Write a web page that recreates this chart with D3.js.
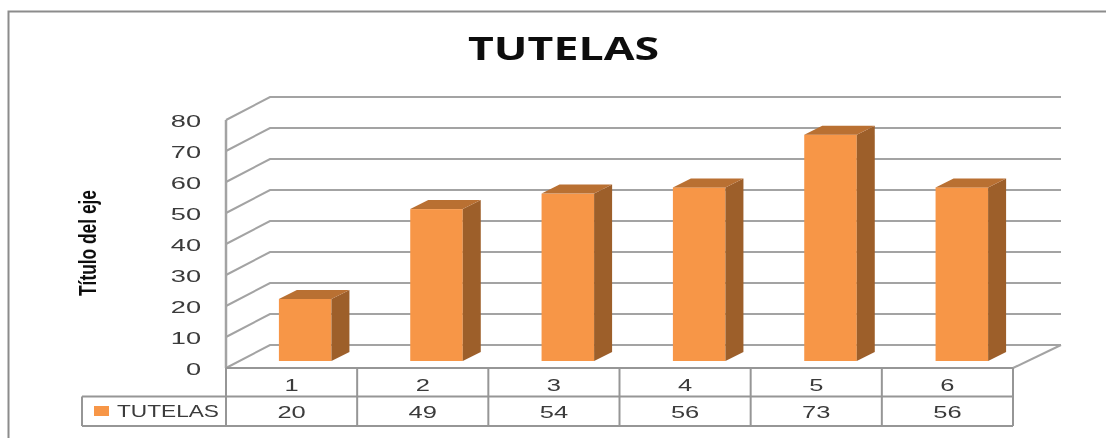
<!DOCTYPE html>
<html><head><meta charset="utf-8">
<script src="https://cdn.jsdelivr.net/npm/d3@7"></script>
<style>html,body{margin:0;padding:0;background:#fff;overflow:hidden}svg{display:block}</style></head>
<body><svg id="c" width="1106" height="438"></svg>
<script>
const categories = ["1","2","3","4","5","6"];
const seriesName = "TUTELAS";
const values = [20,49,54,56,73,56];
const yTicks = [0,10,20,30,40,50,60,70,80];
const chartTitle = "TUTELAS";
const yTitle = "Título del eje";

const root = d3.select("#c");
root.append("defs").append("filter").attr("id","soft").attr("x","-2%").attr("y","-2%").attr("width","104%").attr("height","104%")
  .append("feGaussianBlur").attr("stdDeviation",0.45);
const svg = root.append("g").attr("filter","url(#soft)");
const gridCol="#a3a3a3", tableCol="#969696", textCol="#3a3a3a";
const font="'Liberation Sans',Arial,sans-serif";

const x = d3.scaleBand().domain(categories).range([226+13.5,1014+13.5]).paddingInner(0.6).paddingOuter(0.3);
const col = d3.scaleBand().domain(categories).range([226,1013]);
const y = d3.scaleLinear().domain([0,80]).range([368,120]);
const barBase = 361-368;
const wallDx=44, wallDy=-23, depthDx=18, depthDy=-9;

// frame
svg.append("path").attr("d","M8.5,438V11.5H1106").attr("fill","none").attr("stroke","#8c8c8c").attr("stroke-width",2);

// title
svg.append("text").text(chartTitle).attr("x",468).attr("y",60).attr("textLength",191).attr("lengthAdjust","spacingAndGlyphs")
  .attr("font-family","'Open Sans',sans-serif").attr("font-weight",700).attr("font-size",32).attr("fill","#111");

// axis title
svg.append("text").text(yTitle).attr("transform","translate(96,296) rotate(-90)").attr("textLength",106).attr("lengthAdjust","spacingAndGlyphs")
  .attr("font-family",font).attr("font-weight",700).attr("font-size",23).attr("fill","#111");

// walls
const right=1061, gridG=svg.append("g").attr("fill","none").attr("stroke",gridCol).attr("stroke-width",2);
yTicks.forEach(t=>{
  gridG.append("path").attr("d",`M226,${y(t)}L${226+wallDx},${y(t)+wallDy}H${right}`);
});
gridG.append("path").attr("d",`M226,${y(80)}V${y(0)}`).attr("stroke-width",2.5);
gridG.append("path").attr("d",`M1013,${y(0)}L${right},${y(0)+wallDy}`);

// y axis labels
const ax = d3.axisLeft(y).tickValues(yTicks).tickSize(0).tickPadding(0);
const axG = svg.append("g").attr("transform","translate(201,1)").call(ax);
axG.select(".domain").remove();
axG.selectAll("text").attr("font-family",font).attr("font-size",17).attr("fill",textCol)
  .attr("transform","scale(1.6,1)").attr("x",0);

// bars
const barG=svg.append("g");
categories.forEach((c,i)=>{
  const x0=x(c), x1=x0+x.bandwidth(), yt=y(values[i])+barBase, yb=y(0)+barBase;
  barG.append("rect").attr("x",x0).attr("y",yt).attr("width",x.bandwidth()).attr("height",yb-yt).attr("fill","#f79646");
  barG.append("path").attr("d",`M${x1},${yt}l${depthDx},${depthDy}V${yb+depthDy}L${x1},${yb}Z`).attr("fill","#9d5f2b");
  barG.append("path").attr("d",`M${x0},${yt}l${depthDx},${depthDy}H${x1+depthDx}L${x1},${yt}Z`).attr("fill","#b96f32");
});

// data table
const rows=[368,396.5,426], left=82;
const tb=svg.append("g").attr("fill","none").attr("stroke",tableCol).attr("stroke-width",2);
tb.append("path").attr("d",`M226,${rows[0]}H1013`);
tb.append("path").attr("d",`M${left},${rows[1]}H1013`);
tb.append("path").attr("d",`M${left},${rows[2]}H1013`);
tb.append("path").attr("d",`M${left},${rows[1]}V${rows[2]}`);
tb.append("path").attr("d",`M226,${rows[0]}V${rows[2]}`);
categories.forEach(c=>tb.append("path").attr("d",`M${col(c)+col.bandwidth()},${rows[0]}V${rows[2]}`));

const cellText=(s,cx,cy)=>svg.append("text").text(s).attr("transform",`translate(${cx},${cy}) scale(1.5,1)`)
  .attr("text-anchor","middle").attr("font-family",font).attr("font-size",17).attr("fill",textCol);
categories.forEach((c,i)=>{
  const cx=col(c)+col.bandwidth()/2;
  cellText(c,cx,391);
  cellText(String(values[i]),cx,418);
});
svg.append("rect").attr("x",94).attr("y",406).attr("width",15).attr("height",10).attr("fill","#f79646");
svg.append("text").text(seriesName).attr("x",117).attr("y",417).attr("textLength",102).attr("lengthAdjust","spacingAndGlyphs")
  .attr("font-family",font).attr("font-size",17).attr("fill",textCol);
</script></body></html>
